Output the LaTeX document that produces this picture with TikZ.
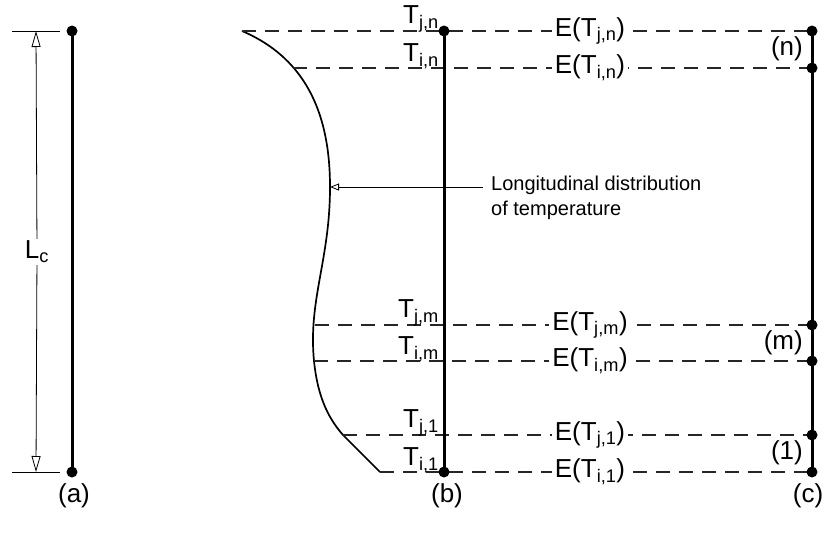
\documentclass[tikz,border=0pt]{standalone}
\usepackage{fontspec}
\setmainfont{Liberation Sans}
\usetikzlibrary{arrows.meta}
\tikzset{
  member/.style={line width=3pt},
  joint/.style={circle, fill=black, inner sep=0pt, minimum size=11pt},
  level/.style={black!85, line width=1.2pt, dash pattern=on 14pt off 9pt},
  elabel/.style={fill=white, inner sep=3pt},
  tlabel/.style={anchor=south east, inner sep=1pt},
  seglabel/.style={anchor=east, inner sep=1pt},
  dimtip/.style={line width=0.8pt, -{Triangle[open, length=16pt, width=9pt]}},
}
\begin{document}
\begin{tikzpicture}[x=1pt, y=-1pt, font=\fontsize{26}{31}\selectfont]
  \useasboundingbox (0,0) rectangle (826,533);

  % --- (a): member with length L_c ---
  \coordinate (a top) at (72,31);
  \coordinate (a bot) at (72,472);
  \draw[member] (a top) -- (a bot);
  \node[joint] at (a top) {};
  \node[joint] at (a bot) {};
  \coordinate (tick top) at (12,31);
  \coordinate (tick bot) at (12,472);
  \draw[line width=1pt] (tick top) -- (60,31);
  \draw[line width=1pt] (tick bot) -- (60,472);
  \node[fill=white, inner sep=2pt] (Lc) at (37,252) {L\textsubscript{c}};
  \draw[dimtip] (Lc) -- (36,31);
  \draw[dimtip] (Lc) -- (36,472);
  \node (lab a) at (74,496) {(a)};

  % --- (b): member with temperature distribution ---
  \coordinate (b top) at (444,31);
  \coordinate (b bot) at (444,472);

  % points of the curve on each level
  \foreach \lv/\yy/\cx in {jn/31/242, in/68/293, jm/325/315, im/361/314, j1/435/343, i1/472/380}{
    \coordinate (c\lv) at (\cx,\yy);
    \coordinate (r\lv) at (812,\yy);
  }
  \coordinate (curve tip) at (330,187);
  \draw[line width=1.7pt] (cjn) .. controls (310,60) and (330,120) .. (curve tip)
    .. controls (330,260) and (308,300) .. (cim)
    .. controls (318,400) and (330,420) .. (cj1) -- (ci1);

  % dashed levels
  \foreach \lv in {jn, in, jm, im, j1, i1}
    \draw[level] (c\lv) -- (r\lv);

  \draw[member] (b top) -- (b bot);
  \node[joint] at (b top) {};
  \node[joint] at (b bot) {};

  % temperature labels
  \foreach \lv/\yy/\sub in {jn/31/{j,n}, in/68/{i,n}, jm/325/{j,m}, im/361/{i,m}, j1/435/{j,1}, i1/472/{i,1}}{
    \node[tlabel] (T\lv) at (440,\yy+2) {T\textsubscript{\sub}};
    \node[elabel] (E\lv) at (590,\yy) {E(T\textsubscript{\sub})};
  }

  % distribution note
  \node[anchor=north west, inner sep=0pt, align=left, font=\fontsize{20}{25}\selectfont] (note) at (491,176)
    {Longitudinal distribution\\of temperature};
  \coordinate (note tail) at (483,187);
  \draw[line width=0.8pt, -{Triangle[open, length=9pt, width=7pt]}] (note tail) -- (curve tip);
  \node (lab b) at (447,496) {(b)};

  % --- (c): segments ---
  \coordinate (c top) at (812,31);
  \coordinate (c bot) at (812,472);
  \draw[member] (c top) -- (c bot);
  \foreach \lv in {jn, in, jm, im, j1, i1}
    \node[joint] at (r\lv) {};
  \node[seglabel] (seg n) at (804,49) {(n)};
  \node[seglabel] (seg m) at (804,343) {(m)};
  \node[seglabel] (seg 1) at (804,453) {(1)};
  \node (lab c) at (808,496) {(c)};
\end{tikzpicture}
\end{document}
